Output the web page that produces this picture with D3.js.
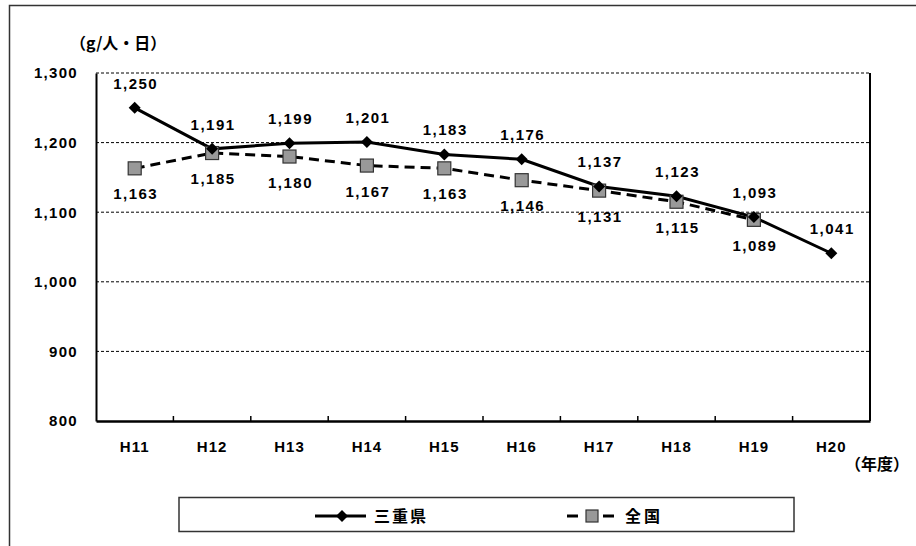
<!DOCTYPE html>
<html><head><meta charset="utf-8">
<script src="https://cdn.jsdelivr.net/npm/d3@7"></script>
<style>
body{margin:0;background:#fff;}
svg{display:block;}
text{font-family:"Liberation Sans","Noto Sans CJK JP",sans-serif;font-weight:bold;fill:#000;}
.cjk{font-family:"Noto Sans CJK JP",sans-serif;}
</style></head>
<body><svg id="c" width="916" height="546"></svg>
<script>
const categories = ["H11","H12","H13","H14","H15","H16","H17","H18","H19","H20"];
const mie = [1250,1191,1199,1201,1183,1176,1137,1123,1093,1041];
const zenkoku = [1163,1185,1180,1167,1163,1146,1131,1115,1089];
const yTicks = [800,900,1000,1100,1200,1300];
const seriesNames = ["三重県","全国"];

const svg = d3.select("#c");
const m = {l:96, t:73, r:870, b:421};
const x = d3.scaleBand().domain(categories).range([m.l, m.r]);
const y = d3.scaleLinear().domain([800,1300]).range([m.b, m.t]);
const cx = c => x(c) + x.bandwidth()/2;
const fmt = d3.format(",");

// outer frame
svg.append("rect").attr("x",9.5).attr("y",5.5).attr("width",930).attr("height",560)
  .attr("fill","none").attr("stroke","#333").attr("stroke-width",1.5);

// gridlines
svg.append("g").selectAll("line").data(yTicks.filter(v=>v>800)).join("line")
  .attr("x1",m.l).attr("x2",m.r).attr("y1",d=>y(d)).attr("y2",d=>y(d))
  .attr("stroke","#000").attr("stroke-width",1).attr("stroke-dasharray","3,2");

// axes
const yAxis = d3.axisLeft(y).tickValues(yTicks).tickSize(0).tickPadding(18).tickFormat(fmt);
const gy = svg.append("g").attr("transform",`translate(${m.l},0)`).call(yAxis);
gy.select(".domain").attr("stroke","#000").attr("stroke-width",2);
gy.selectAll("text").style("font-size","15px").style("letter-spacing","1.3px");

svg.append("line").attr("x1",m.r).attr("x2",m.r).attr("y1",m.t).attr("y2",m.b)
  .attr("stroke","#000").attr("stroke-width",2);

const xAxis = d3.axisBottom(x).tickSize(0).tickPadding(20);
const gx = svg.append("g").attr("transform",`translate(0,${m.b})`).call(xAxis);
gx.select(".domain").attr("stroke","#000").attr("stroke-width",2.5);
gx.selectAll("text").style("font-size","15px").style("letter-spacing","1px");
// tick marks between categories
svg.append("g").selectAll("line").data(categories.slice(1)).join("line")
  .attr("x1",d=>x(d)).attr("x2",d=>x(d)).attr("y1",m.b).attr("y2",m.b-5)
  .attr("stroke","#000").attr("stroke-width",1.5);

// lines
const line = d3.line().x((d,i)=>cx(categories[i])).y(d=>y(d));
svg.append("path").datum(zenkoku).attr("d",line).attr("fill","none")
  .attr("stroke","#000").attr("stroke-width",3).attr("stroke-dasharray","10,6");
svg.append("path").datum(mie).attr("d",line).attr("fill","none")
  .attr("stroke","#000").attr("stroke-width",3);

// markers
svg.append("g").selectAll("rect").data(zenkoku).join("rect")
  .attr("x",(d,i)=>cx(categories[i])-6.5).attr("y",d=>y(d)-6.5)
  .attr("width",13).attr("height",13).attr("fill","#999").attr("stroke","#333").attr("stroke-width",1.2);
const diamond = d3.symbol().type(d3.symbolSquare).size(72);
svg.append("g").selectAll("path").data(mie).join("path")
  .attr("d",diamond).attr("transform",(d,i)=>`translate(${cx(categories[i])},${y(d)}) rotate(45)`).attr("fill","#000");

// labels
svg.append("g").selectAll("text").data(mie).join("text")
  .attr("x",(d,i)=>cx(categories[i])+1).attr("y",d=>y(d)-19)
  .attr("text-anchor","middle").style("font-size","15px").style("letter-spacing","1.5px").text(fmt);
svg.append("g").selectAll("text").data(zenkoku).join("text")
  .attr("x",(d,i)=>cx(categories[i])+1).attr("y",d=>y(d)+31)
  .attr("text-anchor","middle").style("font-size","15px").style("letter-spacing","1.5px").text(fmt);

// axis titles
svg.append("text").attr("class","cjk").attr("x",70).attr("y",49).style("font-size","16px").text("（g/人・日）");
svg.append("text").attr("class","cjk").attr("x",845).attr("y",470).style("font-size","16px").text("（年度）");

// legend
svg.append("rect").attr("x",179).attr("y",497.5).attr("width",615).attr("height",34)
  .attr("fill","#fff").attr("stroke","#333").attr("stroke-width",1.5);
const ly = 516;
svg.append("line").attr("x1",315).attr("x2",366).attr("y1",ly).attr("y2",ly).attr("stroke","#000").attr("stroke-width",3);
svg.append("path").attr("d",diamond).attr("transform",`translate(342,${ly}) rotate(45)`).attr("fill","#000");
svg.append("text").attr("class","cjk").attr("x",374).attr("y",ly+6).style("font-size","16px").style("letter-spacing","2px").text(seriesNames[0]);
svg.append("line").attr("x1",567).attr("x2",615).attr("y1",ly).attr("y2",ly).attr("stroke","#000").attr("stroke-width",3).attr("stroke-dasharray","11,25");
svg.append("rect").attr("x",586).attr("y",ly-6).attr("width",12).attr("height",12).attr("fill","#999").attr("stroke","#333").attr("stroke-width",1.2);
svg.append("text").attr("class","cjk").attr("x",625).attr("y",ly+6).style("font-size","16px").style("letter-spacing","3px").text(seriesNames[1]);
</script></body></html>
